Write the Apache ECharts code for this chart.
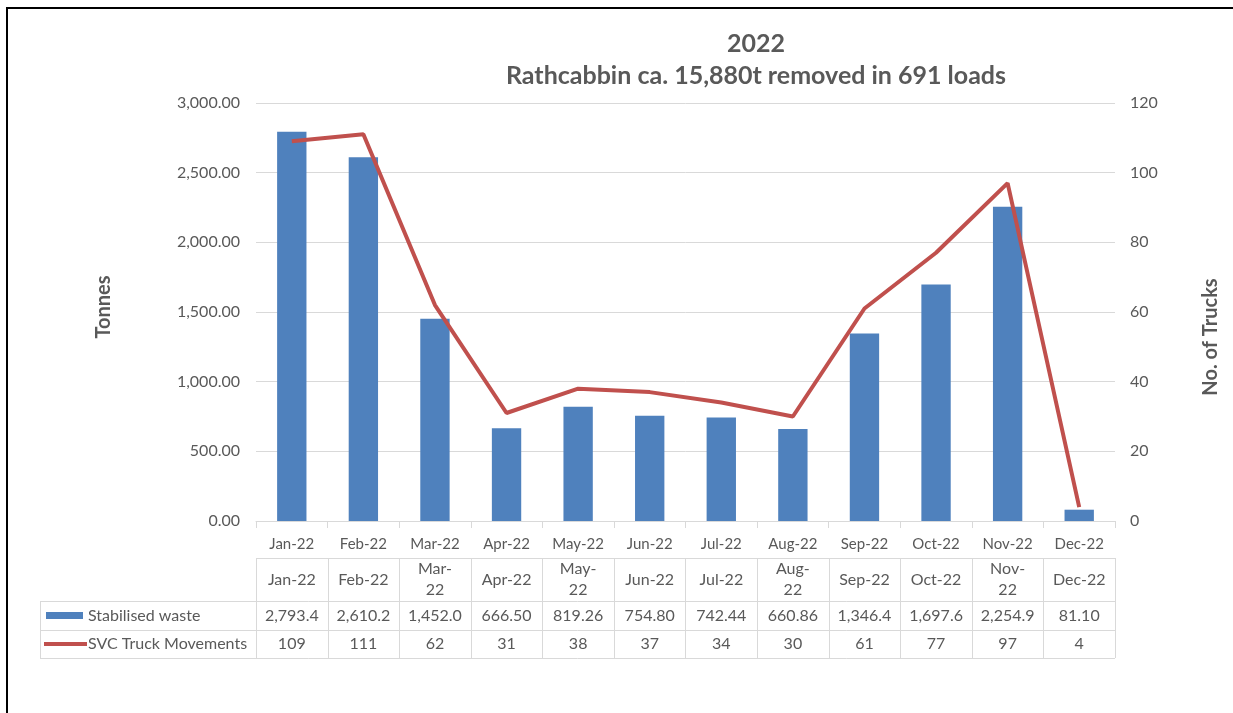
<!DOCTYPE html>
<html>
<head>
<meta charset="utf-8">
<script src="https://cdn.jsdelivr.net/npm/echarts@6/dist/echarts.min.js"></script>
<style>
  html, body { margin: 0; padding: 0; background: #fff; }
  #chart { width: 1233px; height: 713px; }
</style>
</head>
<body>
<div id="chart"></div>
<script>
// Monthly waste removal at Rathcabbin, 2022
const months = ['Jan-22', 'Feb-22', 'Mar-22', 'Apr-22', 'May-22', 'Jun-22',
                'Jul-22', 'Aug-22', 'Sep-22', 'Oct-22', 'Nov-22', 'Dec-22'];
// Header labels of the data table (narrow cells wrap at the hyphen)
const tableHeads = ['Jan-22', 'Feb-22', 'Mar-\n22', 'Apr-22', 'May-\n22', 'Jun-22',
                    'Jul-22', 'Aug-\n22', 'Sep-22', 'Oct-22', 'Nov-\n22', 'Dec-22'];
const tonnes = [2793.4, 2610.2, 1452.0, 666.50, 819.26, 754.80,
                742.44, 660.86, 1346.4, 1697.6, 2254.9, 81.10];
const trucks = [109, 111, 62, 31, 38, 37, 34, 30, 61, 77, 97, 4];
const seriesNames = ['Stabilised waste', 'SVC Truck Movements'];
const titleLines = ['2022', 'Rathcabbin ca. 15,880t removed in 691 loads'];
const axisNames = ['Tonnes', 'No. of Trucks'];

const FONT = 'Lato, "Open Sans", sans-serif';
const TEXT = '#595959';
const GRIDC = '#d9d9d9';
const BLUE = '#4f81bd';
const RED = '#c0504d';

function withCommas(s) {
  const parts = s.split('.');
  parts[0] = parts[0].replace(/\B(?=(\d{3})+(?!\d))/g, ',');
  return parts.join('.');
}
// Table cells keep about five significant digits
function tableTonnes(v) {
  return withCommas(v >= 1000 ? v.toFixed(1) : v.toFixed(2));
}

const chart = echarts.init(document.getElementById('chart'), null, { renderer: 'canvas' });

const gridL = 256, gridR = 118, gridT = 103, gridB = 192;

chart.setOption({
  animation: false,
  backgroundColor: '#fff',
  textStyle: { fontFamily: FONT },
  grid: { left: gridL, right: gridR, top: gridT, bottom: gridB, containLabel: false },
  xAxis: {
    type: 'category',
    data: months,
    axisLine: { lineStyle: { color: GRIDC, width: 1 } },
    axisTick: { show: true, length: 7, lineStyle: { color: GRIDC } },
    axisLabel: { color: TEXT, fontSize: 15, fontFamily: FONT, margin: 16 }
  },
  yAxis: [
    {
      type: 'value', min: 0, max: 3000, interval: 500,
      axisLine: { show: false }, axisTick: { show: false },
      axisLabel: {
        color: TEXT, fontSize: 16, fontFamily: FONT, margin: 16,
        formatter: v => withCommas(v.toFixed(2))
      },
      splitLine: { lineStyle: { color: GRIDC, width: 1 } }
    },
    {
      type: 'value', min: 0, max: 120, interval: 20,
      axisLine: { show: false }, axisTick: { show: false },
      axisLabel: { color: TEXT, fontSize: 16, fontFamily: FONT, margin: 15 },
      splitLine: { show: false }
    }
  ],
  series: [
    {
      name: seriesNames[0], type: 'bar', data: tonnes, yAxisIndex: 0,
      barWidth: '41%', itemStyle: { color: BLUE }
    },
    {
      name: seriesNames[1], type: 'line', data: trucks, yAxisIndex: 1,
      symbol: 'none', smooth: false, z: 5,
      lineStyle: { color: RED, width: 4 }
    }
  ]
});

// Titles, axis names and the data table under the axis
(function drawExtras() {
  const c0 = chart.convertToPixel({ xAxisIndex: 0 }, 0);
  const c1 = chart.convertToPixel({ xAxisIndex: 0 }, 1);
  const band = c1 - c0;
  const x0 = c0 - band / 2;
  const xEnd = x0 + band * months.length;
  const legendX = 40;
  const rows = [558, 601, 630, 658];
  const g = [];
  const line = (x1, y1, x2, y2, color, w) => g.push({
    type: 'line', shape: { x1, y1, x2, y2 },
    style: { stroke: color, lineWidth: w }, silent: true
  });
  const text = (x, y, t, align, font, rot) => g.push({
    type: 'text', x, y, rotation: rot || 0,
    style: { text: t, fill: TEXT, font: font || ('16px ' + FONT), textAlign: align || 'center',
             textVerticalAlign: 'middle', lineHeight: 21 },
    silent: true
  });

  // chart titles
  text(756, 44, titleLines[0], 'center', 'bold 25px ' + FONT);
  text(756, 76, titleLines[1], 'center', 'bold 25px ' + FONT);
  // axis names
  text(104, 307, axisNames[0], 'center', 'bold 20px ' + FONT, Math.PI / 2);
  text(1211, 337, axisNames[1], 'center', 'bold 20px ' + FONT, Math.PI / 2);

  // horizontal rules
  line(x0, rows[0] + 0.5, xEnd, rows[0] + 0.5, GRIDC, 1);
  for (let r = 1; r < rows.length; r++) line(legendX, rows[r] + 0.5, xEnd, rows[r] + 0.5, GRIDC, 1);
  // vertical rules
  for (let i = 0; i <= months.length; i++) {
    const x = Math.round(x0 + band * i) + 0.5;
    line(x, rows[0], x, rows[3], GRIDC, 1);
  }
  line(legendX + 0.5, rows[1], legendX + 0.5, rows[3], GRIDC, 1);

  // legend keys and row names
  const yA = (rows[1] + rows[2]) / 2, yB = (rows[2] + rows[3]) / 2;
  g.push({ type: 'rect', shape: { x: 46, y: yA - 3.5, width: 37, height: 7 },
           style: { fill: BLUE }, silent: true });
  line(44, yB, 87, yB, RED, 4);
  text(88, yA, seriesNames[0], 'left');
  text(88, yB, seriesNames[1], 'left');

  // cells
  const yH = (rows[0] + rows[1]) / 2;
  for (let i = 0; i < months.length; i++) {
    const cx = chart.convertToPixel({ xAxisIndex: 0 }, i);
    text(cx, yH, tableHeads[i]);
    text(cx, yA, tableTonnes(tonnes[i]));
    text(cx, yB, String(trucks[i]));
  }

  // outer frame
  line(7, 8, 7, 713, '#000', 2);
  line(6, 8, 1233, 8, '#000', 2);

  chart.setOption({ graphic: g });
})();
</script>
</body>
</html>
